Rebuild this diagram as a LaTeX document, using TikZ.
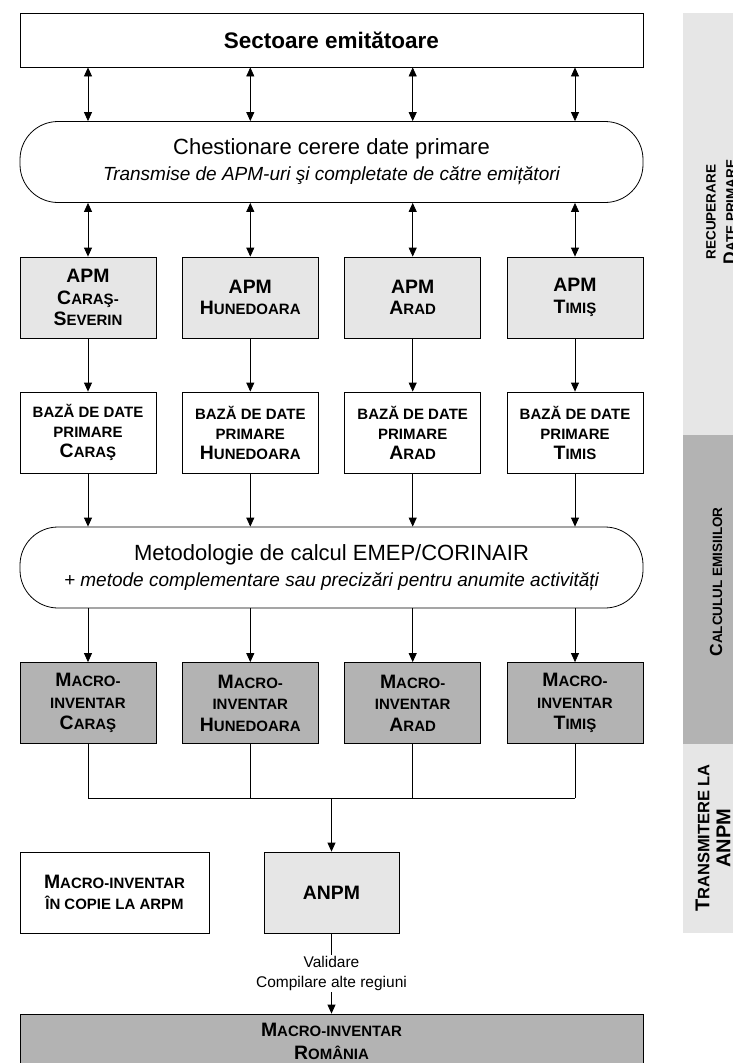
\documentclass[tikz,border=0pt]{standalone}
\usepackage{fontspec}
\setmainfont{Liberation Sans}
\usetikzlibrary{positioning,arrows.meta}
\definecolor{lightgrey}{HTML}{E6E6E6}
\definecolor{midgrey}{HTML}{B3B3B3}
\def\capsize{15}
\newcommand\lowcap[1]{{\fontsize{\capsize}{20}\selectfont #1}}
\newcommand\subline[1]{{\fontsize{19}{22}\selectfont\itshape #1}}

\begin{document}
\begin{tikzpicture}[x=1pt,y=-1pt,line width=0.8pt,
			box/.style={draw,rectangle,minimum width=136pt,minimum height=81pt,inner sep=2pt,align=center,
				font=\fontsize{19.4}{21.5}\selectfont\bfseries},
			apm/.style={box,fill=lightgrey},
			base/.style={box,font=\fontsize{19.4}{20}\selectfont\bfseries},
			macro/.style={box,fill=midgrey},
			wide/.style={draw,rectangle,minimum width=623pt,minimum height=54pt,align=center},
			oval/.style={draw,rectangle,rounded corners=38pt,minimum width=623pt,minimum height=81pt,align=center,
				font=\fontsize{22}{25}\selectfont},
			paneltext/.style={rotate=90,align=center,font=\def\capsize{13.5}\fontsize{17.5}{20}\selectfont\bfseries},
			link/.style={-{Triangle[width=8pt,length=9pt]}},
			dlink/.style={{Triangle[width=8pt,length=9pt]}-{Triangle[width=8pt,length=9pt]}}]
			\clip (0,0) rectangle (733,1063);
			% side panels
			\fill[lightgrey] (683,13) rectangle (745,435);
			\fill[midgrey] (683,435) rectangle (745,744);
			\fill[lightgrey] (683,744) rectangle (745,933);
			\node (recup) [paneltext] at (721,212) {\lowcap{RECUPERARE}\\D\lowcap{ATE PRIMARE}};
			\node (calcul) [paneltext] at (716,582) {C\lowcap{ALCULUL EMISIILOR}};
			\node (transm) [paneltext,font=\def\capsize{16.5}\fontsize{20}{21}\selectfont\bfseries] at (713,838)
				{T\lowcap{RANSMITERE LA}\\ANPM};
			% columns
			\foreach \i/\x in {1/88,2/250.3,3/412.7,4/575}
				\coordinate (col\i) at (\x,0);
			\node (sect) [wide,font=\fontsize{22.5}{25}\selectfont\bfseries] at (331.5,40) {Sectoare emitătoare};
			\node (chest) [oval] at (331.5,162) {Chestionare cerere date primare\\[1pt]
				\subline{Transmise de APM-uri şi completate de către emițători}};
			\node (apm1) [apm] at (col1 |- 0,297.5) {APM\\C\lowcap{ARAŞ-}\\S\lowcap{EVERIN}};
			\node (apm2) [apm] at (col2 |- 0,297.5) {APM\\H\lowcap{UNEDOARA}};
			\node (apm3) [apm] at (col3 |- 0,297.5) {APM\\A\lowcap{RAD}};
			\node (apm4) [apm] at (col4 |- 0,297.5) {APM\\T\lowcap{IMIŞ}};
			\node (baza1) [base] at (col1 |- 0,432.5) {\lowcap{BAZĂ DE DATE}\\\lowcap{PRIMARE}\\C\lowcap{ARAŞ}};
			\node (baza2) [base] at (col2 |- 0,432.5) {\lowcap{BAZĂ DE DATE}\\\lowcap{PRIMARE}\\H\lowcap{UNEDOARA}};
			\node (baza3) [base] at (col3 |- 0,432.5) {\lowcap{BAZĂ DE DATE}\\\lowcap{PRIMARE}\\A\lowcap{RAD}};
			\node (baza4) [base] at (col4 |- 0,432.5) {\lowcap{BAZĂ DE DATE}\\\lowcap{PRIMARE}\\T\lowcap{IMIS}};
			\node (metod) [oval] at (331.5,567.5) {Metodologie de calcul EMEP/CORINAIR\\[1pt]
				\subline{+ metode complementare sau precizări pentru anumite activități}};
			\node (macro1) [macro] at (col1 |- 0,703) {M\lowcap{ACRO-}\\\lowcap{INVENTAR}\\C\lowcap{ARAŞ}};
			\node (macro2) [macro] at (col2 |- 0,703) {M\lowcap{ACRO-}\\\lowcap{INVENTAR}\\H\lowcap{UNEDOARA}};
			\node (macro3) [macro] at (col3 |- 0,703) {M\lowcap{ACRO-}\\\lowcap{INVENTAR}\\A\lowcap{RAD}};
			\node (macro4) [macro] at (col4 |- 0,703) {M\lowcap{ACRO-}\\\lowcap{INVENTAR}\\T\lowcap{IMIŞ}};
			\coordinate (join) at (331.5,798);
			\node (anpm) [apm,minimum width=135pt] at (331.5,892.5) {ANPM};
			\node (copie) [box,minimum width=189pt] at (114.5,892.5) {M\lowcap{ACRO-INVENTAR}\\\lowcap{ÎN COPIE LA ARPM}};
			\node (romania) [wide,fill=midgrey,font=\fontsize{19.4}{23}\selectfont\bfseries] at (331.5,1041)
				{M\lowcap{ACRO-INVENTAR}\\R\lowcap{OMÂNIA}};
			% connectors
			\foreach \i in {1,...,4} {
				\draw[dlink] (sect.south -| col\i) -- (chest.north -| col\i);
				\draw[dlink] (chest.south -| col\i) -- (apm\i);
				\draw[link] (apm\i) -- (baza\i);
				\draw[link] (baza\i) -- (metod.north -| col\i);
				\draw[link] (metod.south -| col\i) -- (macro\i);
				\draw (macro\i) -- (macro\i |- join);
			}
			\draw (macro1 |- join) -- (macro4 |- join);
			\draw[link] (join) -- (anpm);
			\draw[link] (anpm) -- node (valid) [fill=white,inner sep=1pt,align=center,font=\fontsize{15.5}{20}\selectfont]
				{Validare\\Compilare alte regiuni} (romania);
		\end{tikzpicture}
\end{document}
